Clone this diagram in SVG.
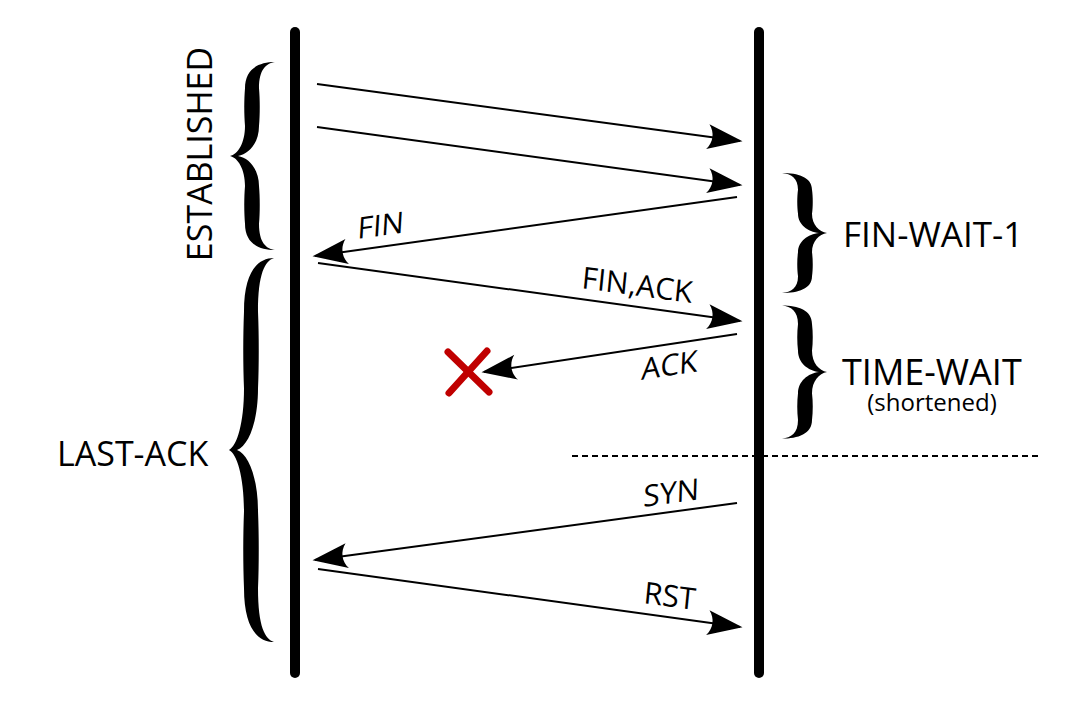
<svg xmlns="http://www.w3.org/2000/svg" xmlns:xlink="http://www.w3.org/1999/xlink" width="1072" height="714" viewBox="0 0 1072 714">
<style>
text{font-family:"Open Sans","Noto Sans","DejaVu Sans",sans-serif;fill:#000}
.state{font-size:35px}
.lbl{font-size:30px}
.life{stroke:#000;stroke-width:10;stroke-linecap:round;fill:none}
.msg{stroke:#000;stroke-width:2;fill:none;marker-end:url(#ah)}
.brace{fill:#000}
</style>
<defs>
<marker id="ah" markerUnits="userSpaceOnUse" markerWidth="40" markerHeight="30" refX="26" refY="0" orient="auto" viewBox="-2 -12 32 24" overflow="visible">
<path d="M28,0 L0,-10 C5,-4 5,4 0,10 Z" fill="#000"/>
</marker>
<path id="brace" d="M45,-100 C29,-100 15,-93 15,-72 C14,-60 14,-44 15,-32 C15,-14 8,-2 0,0 C8,2 15,14 15,32 C14,44 14,60 15,72 C15,93 29,100 45,100 C36,98.5 29,92 29,72 C30,60 30,44 29,32 C29,14 19,2 8,0 C19,-2 29,-14 29,-32 C30,-44 30,-60 29,-72 C29,-92 36,-98.5 45,-100 Z"/>
</defs>
<rect width="1072" height="714" fill="#fff"/>
<g id="lifeline-left"><line class="life" x1="295" y1="32" x2="295" y2="673"/></g>
<g id="lifeline-right"><line class="life" x1="759" y1="32" x2="759" y2="673"/></g>
<g id="state-established">
<use href="#brace" class="brace" transform="translate(230,156) scale(1,0.94)"/>
<text class="state" style="font-size:34px" text-anchor="middle" transform="translate(212,154) rotate(-90)">ESTABLISHED</text>
</g>
<g id="state-last-ack">
<use href="#brace" class="brace" transform="translate(229,450) scale(1,1.92)"/>
<text class="state" style="font-size:34px" x="57" y="466">LAST-ACK</text>
</g>
<g id="state-fin-wait-1">
<use href="#brace" class="brace" transform="translate(827,233) scale(-1,0.6)"/>
<text class="state" x="843" y="247">FIN-WAIT-1</text>
</g>
<g id="state-time-wait">
<use href="#brace" class="brace" transform="translate(827,372) scale(-1,0.665)"/>
<text class="state" x="842" y="385" style="font-size:36px">TIME-WAIT</text>
<text x="932" y="411" text-anchor="middle" font-size="24">(shortened)</text>
</g>
<g id="connectors">
<line class="msg" x1="317" y1="84" x2="740" y2="141"/>
<line class="msg" x1="317" y1="127" x2="740" y2="185"/>
<line class="msg" x1="737" y1="197" x2="315" y2="256"/>
<line class="msg" x1="318" y1="263" x2="740" y2="321"/>
<line class="msg" x1="737" y1="334" x2="484" y2="372"/>
<line class="msg" x1="737" y1="503" x2="315" y2="560"/>
<line class="msg" x1="318" y1="569" x2="740" y2="627"/>
<text class="lbl" transform="translate(357,239) matrix(1,-0.137,-0.06,1,0,0)">FIN</text>
<text class="lbl" transform="translate(581,288) matrix(1,0.137,-0.1,1,0,0)">FIN,ACK</text>
<text class="lbl" transform="translate(641,380) matrix(1,-0.153,-0.04,1,0,0)">ACK</text>
<text class="lbl" transform="translate(643,507) matrix(1,-0.135,-0.03,1,0,0)">SYN</text>
<text class="lbl" transform="translate(643,603) matrix(1,0.135,-0.1,1,0,0)">RST</text>
</g>
<g id="lost-marker">
<line x1="448" y1="352" x2="489" y2="392" stroke="#c00000" stroke-width="7" stroke-linecap="round"/>
<line x1="487" y1="351" x2="449" y2="393" stroke="#c00000" stroke-width="7" stroke-linecap="round"/>
</g>
<g id="separator">
<line x1="572" y1="456" x2="1040" y2="456" stroke="#000" stroke-width="2" stroke-dasharray="6 4"/>
</g>
</svg>
